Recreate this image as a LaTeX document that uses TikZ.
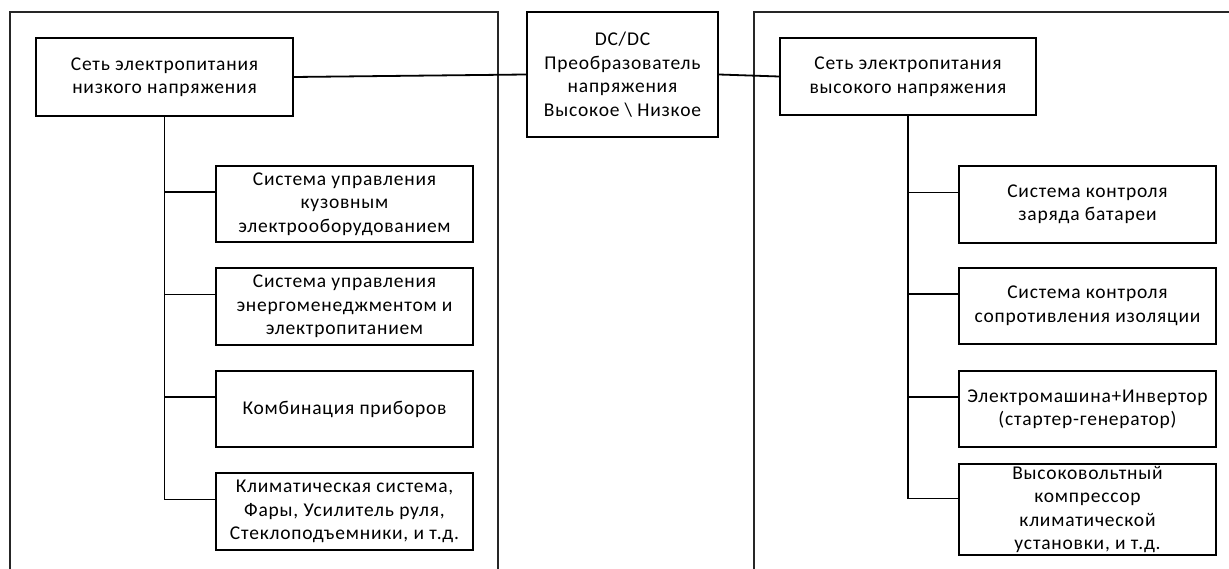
\documentclass[tikz,border=0pt]{standalone}
\usepackage{fontspec}
\setmainfont{Carlito}[LetterSpace=4]
\usetikzlibrary{calc}
\tikzset{
  blk/.style={draw=black, line width=1.8pt, align=center, inner sep=2pt,
    font=\fontsize{19.5}{23.5}\selectfont, text=black},
  wire/.style={draw=black, line width=1.8pt},
  frame/.style={draw=black!85, line width=1.8pt}
}
\begin{document}
\begin{tikzpicture}[x=1pt,y=-1pt]
\useasboundingbox (0,0) rectangle (1229,569);
% frames
\draw[frame] (10,569) -- (10,12) -- (498,12) -- (498,569);
\draw[frame] (754,569) -- (754,12) -- (1229,12);
% top boxes
\node[blk, minimum width=257pt, minimum height=78pt] (ltop) at (164.5,77) {Сеть электропитания\\низкого напряжения};
\node[blk, minimum width=191pt, minimum height=125pt] (dc) at (622.5,74.5) {DC/DC\\Преобразователь\\напряжения\\Высокое \textbackslash\ Низкое};
\node[blk, minimum width=256pt, minimum height=77pt] (rtop) at (908,76.5) {Сеть электропитания\\высокого напряжения};
% left sub boxes
\node[blk, minimum width=257pt, minimum height=76pt] (l1) at (344.5,204) {Система управления\\кузовным\\электрооборудованием};
\node[blk, minimum width=257pt, minimum height=77pt] (l2) at (344.5,306.5) {Система управления\\энергоменеджментом и\\электропитанием};
\node[blk, minimum width=257pt, minimum height=76pt] (l3) at (344.5,409) {Комбинация приборов};
\node[blk, minimum width=257pt, minimum height=77pt] (l4) at (344.5,511.5) {Климатическая система,\\Фары, Усилитель руля,\\Стеклоподъемники, и т.д.};
% right sub boxes
\node[blk, minimum width=257pt, minimum height=77pt] (r1) at (1087.5,204.5) {Система контроля\\заряда батареи};
\node[blk, minimum width=257pt, minimum height=76pt] (r2) at (1087.5,306) {Система контроля\\сопротивления изоляции};
\node[blk, minimum width=257pt, minimum height=76pt] (r3) at (1087.5,409) {Электромашина+Инвертор\\(стартер-генератор)};
\node[blk, minimum width=257pt, minimum height=87pt] (r4) at (1087.5,509.5) {Высоковольтный\\компрессор\\климатической\\установки, и т.д.};
% connectors
\draw[wire] (ltop.east) -- (dc.west);
\draw[wire] (dc.east) -- (rtop.west);
\draw[wire] (ltop.south) |- ([yshift=12pt]l1.west);
\draw[wire] (ltop.south) |- ([yshift=12pt]l2.west);
\draw[wire] (ltop.south) |- ([yshift=12pt]l3.west);
\draw[wire] (ltop.south) |- ([yshift=12pt]l4.west);
\draw[wire] (rtop.south) |- ([yshift=12pt]r1.west);
\draw[wire] (rtop.south) |- ([yshift=12pt]r2.west);
\draw[wire] (rtop.south) |- ([yshift=12pt]r3.west);
\draw[wire] (rtop.south) |- ([yshift=11pt]r4.west);
\end{tikzpicture}
\end{document}
